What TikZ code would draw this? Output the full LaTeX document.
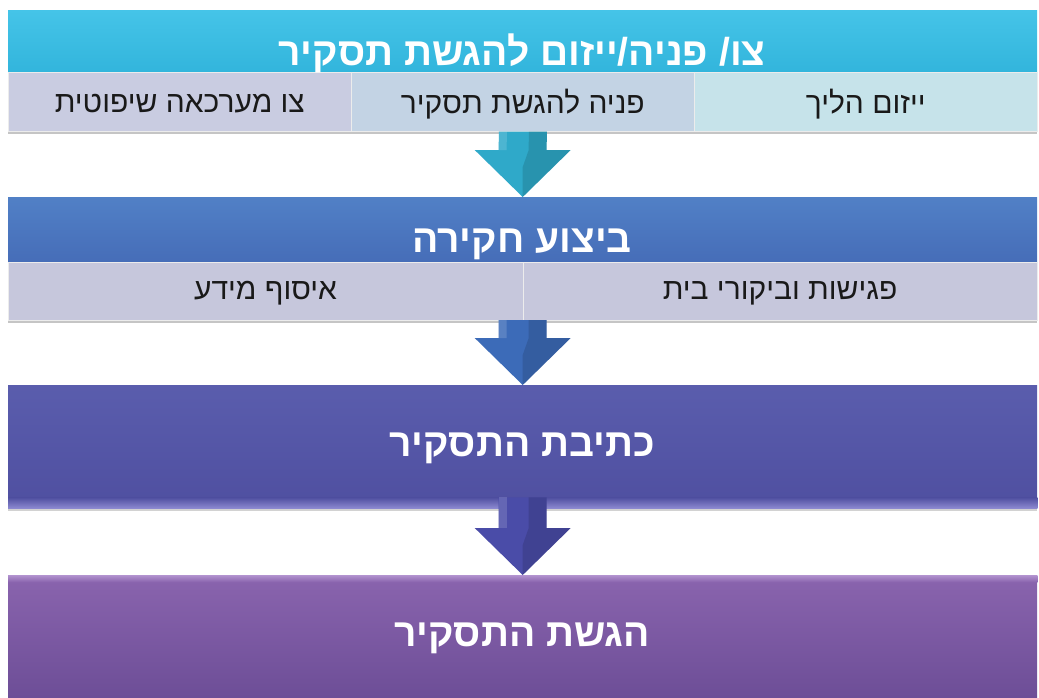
\documentclass[tikz,border=0pt]{standalone}
\usepackage{fontspec}
\setmainfont{Liberation Sans}
\newfontfamily\hebfont[Script=Hebrew]{Liberation Sans}
\TeXXeTstate=1
\usetikzlibrary{calc,shadows}

\definecolor{cyanTop}{HTML}{45C4E8}
\definecolor{cyanBot}{HTML}{32B5DC}
\definecolor{cellA}{HTML}{C9CCE1}
\definecolor{cellB}{HTML}{C3D3E4}
\definecolor{cellC}{HTML}{C6E3EA}
\definecolor{cellD}{HTML}{C6C7DC}
\definecolor{blueTop}{HTML}{5180C6}
\definecolor{blueBot}{HTML}{466DB8}
\definecolor{indTop}{HTML}{5A5DAD}
\definecolor{indBot}{HTML}{4F4FA0}
\definecolor{indEdge}{HTML}{8E8BD2}
\definecolor{purTop}{HTML}{8A64AE}
\definecolor{purBot}{HTML}{6D4E97}
\definecolor{purEdge}{HTML}{B394D0}
\definecolor{arrCyan}{HTML}{2FA9C9}
\definecolor{arrBlue}{HTML}{3C6BB8}
\definecolor{arrInd}{HTML}{4A4CA8}

\tikzset{
  band/.style={rectangle, anchor=north west, minimum width=1029, inner sep=0,
    drop shadow={shadow xshift=0pt, shadow yshift=-3pt, opacity=0.35}},
  cell/.style={rectangle, anchor=north west, inner sep=0, draw=white!85!gray, line width=0.6pt,
    drop shadow={shadow xshift=0pt, shadow yshift=-3pt, opacity=0.45}},
  titletext/.style={text=white, font=\hebfont\bfseries\fontsize{39}{44}\selectfont},
  celltext/.style={text=black!90, font=\hebfont\fontsize{30}{34}\selectfont},
}

% block arrow between two named boxes: #1 source, #2 target, #3 colour, #4 shaft overlap
\newcommand{\blockarrow}[4]{%
  \fill[#3] ($(#1.south)+(-24,-#4)$) -- ($(#1.south)+(24,-#4)$)
     -- ($(#2.north)+(24,-47)$) -- ($(#2.north)+(48,-47)$) -- (#2.north)
     -- ($(#2.north)+(-48,-47)$) -- ($(#2.north)+(-24,-47)$) -- cycle;
  \fill[black, opacity=0.13] ($(#1.south)+(6,-#4)$) -- ($(#1.south)+(24,-#4)$)
     -- ($(#2.north)+(24,-47)$) -- ($(#2.north)+(48,-47)$) -- (#2.north)
     -- ($(#2.north)+(0,-30)$) -- ($(#2.north)+(6,-47)$) -- cycle;
  \fill[white, opacity=0.15] ($(#1.south)+(-24,-#4)$) -- ($(#1.south)+(-16,-#4)$)
     -- ($(#2.north)+(-16,-47)$) -- ($(#2.north)+(-24,-47)$) -- cycle;
}

\begin{document}
\begin{tikzpicture}[x=1pt, y=-1pt]
\fill[white] (0,0) rectangle (1039,697);
\useasboundingbox (0,0) rectangle (1039,697);

% stage 1: order / request / initiative
\node[band, minimum height=62, top color=cyanTop, bottom color=cyanBot] (b1) at (8,10) {};
\node[cell, minimum width=343, minimum height=59, fill=cellA] (c1a) at (8,72) {};
\node[cell, minimum width=343, minimum height=59, fill=cellB] (c1b) at (351,72) {};
\node[cell, minimum width=343, minimum height=59, fill=cellC] (c1c) at (694,72) {};
\node[titletext] (t1) at (522,53) {\beginR צו/ פניה/ייזום להגשת תסקיר\endR};
\node[celltext] (l1a) at ($(c1a.center)+(0,2)$) {\beginR צו מערכאה שיפוטית\endR};
\node[celltext] (l1b) at ($(c1b.center)+(0,2)$) {\beginR פניה להגשת תסקיר\endR};
\node[celltext] (l1c) at ($(c1c.center)+(0,2)$) {\beginR ייזום הליך\endR};

% stage 2: investigation
\node[band, minimum height=65, top color=blueTop, bottom color=blueBot] (b2) at (8,197) {};
\node[cell, minimum width=514.5, minimum height=58, fill=cellD] (c2a) at (8,262) {};
\node[cell, minimum width=514.5, minimum height=58, fill=cellD] (c2b) at (522.5,262) {};
\node[titletext] (t2) at (522,244) {\beginR ביצוע חקירה\endR};
\node[celltext] (l2a) at ($(c2a.center)+(0,2)$) {\beginR איסוף מידע\endR};
\node[celltext] (l2b) at ($(c2b.center)+(0,2)$) {\beginR פגישות וביקורי בית\endR};

% stage 3: writing the report
\node[band, minimum height=123, top color=indTop, bottom color=indBot] (b3) at (8,385) {};
\shade[top color=indBot, bottom color=indEdge] ($(b3.south west)+(0,-11)$) rectangle (b3.south east);
\node[titletext] (t3) at (522,448) {\beginR כתיבת התסקיר\endR};

% stage 4: submitting the report
\node[band, minimum height=122, top color=purTop, bottom color=purBot] (b4) at (8,575) {};
\shade[top color=purEdge, bottom color=purTop] (b4.north west) rectangle ($(b4.north east)+(0,7)$);
\node[titletext] (t4) at (522,638) {\beginR הגשת התסקיר\endR};

% connectors
\blockarrow{c1b}{b2}{arrCyan}{0}
\node[inner sep=0, minimum size=0] (s2) at (522.5,320) {};
\blockarrow{s2}{b3}{arrBlue}{0}
\blockarrow{b3}{b4}{arrInd}{11}
\end{tikzpicture}
\end{document}
